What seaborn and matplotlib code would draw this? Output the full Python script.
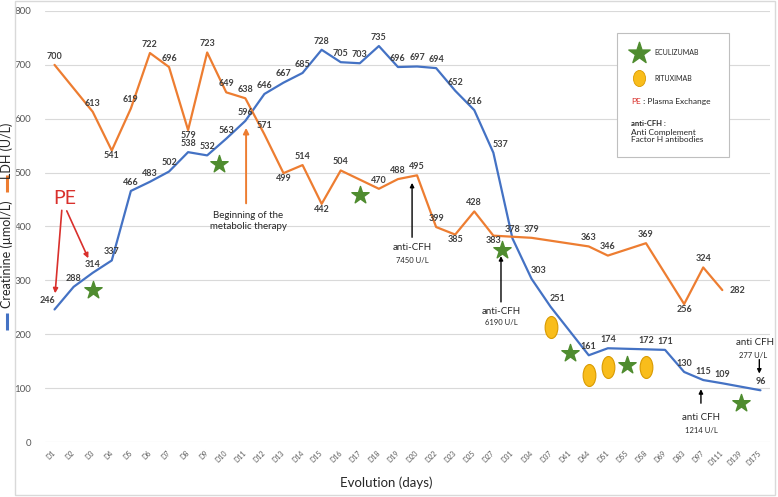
import numpy as np
import pandas as pd
import seaborn as sns
import matplotlib.pyplot as plt
from matplotlib.lines import Line2D
from matplotlib.patches import Rectangle
from matplotlib.path import Path
from matplotlib.transforms import Affine2D

# data
days = ['D1', 'D2', 'D3', 'D4', 'D5', 'D6', 'D7', 'D8', 'D9', 'D10',
        'D11', 'D12', 'D13', 'D14', 'D15', 'D16', 'D17', 'D18', 'D19', 'D20',
        'D22', 'D23', 'D25', 'D27', 'D31', 'D34', 'D37', 'D41', 'D44', 'D51',
        'D55', 'D58', 'D69', 'D83', 'D97', 'D111', 'D139', 'D175']
creatinine = [246, 288, 314, 337, 466, 483, 502, 538, 532, 563,
              596, 646, 667, 685, 728, 705, 703, 735, 696, 697,
              694, 652, 616, 537, 378, 303, 251, None, 161, 174,
              None, 172, 171, 130, 115, 109, None, 96]
ldh = [700, None, 613, 541, 619, 722, 696, 579, 723, 649,
       638, 571, 499, 514, 442, 504, None, 470, 488, 495,
       399, 385, 428, 383, None, 379, None, None, 363, 346,
       None, 369, None, 256, 324, 282, None, None]
ecu_days = ['D3', 'D10', 'D17', 'D27', 'D41', 'D55', 'D139']
ecu_y = [283, 516, 458, 356, 166, 143, 73]
ritux_days = ['D37', 'D44', 'D51', 'D58']
ritux_y = [214, 124, 139, 139]

BLUE = '#4472C4'
ORANGE = '#ED7D31'
GREEN = '#4F8C2F'
GOLD = '#F9BD1B'
TXT = '#404040'
GREY = '#595959'

sns.set_theme(style='white')
plt.rcParams['font.family'] = ['Lato', 'DejaVu Sans']

fig = plt.figure(figsize=(7.78, 4.97), dpi=100)
ax = fig.add_axes([45 / 778, 55 / 497, 725 / 778, 431 / 497])

pos = {d: i for i, d in enumerate(days)}
df = pd.DataFrame({'pos': range(len(days)), 'day': days,
                   'Creatinine': creatinine, 'LDH': ldh})
long = df.melt(id_vars=['pos', 'day'], value_vars=['Creatinine', 'LDH'],
               var_name='series', value_name='value').dropna()
sns.lineplot(data=long, x='pos', y='value', hue='series',
             palette={'Creatinine': BLUE, 'LDH': ORANGE},
             linewidth=1.6, legend=False, estimator=None, ax=ax)

# data labels
ldh_place = {'D4': 'below', 'D8': 'below', 'D13': 'below', 'D15': 'below',
             'D23': 'below', 'D27': 'below', 'D83': 'below', 'D111': 'right'}
cr_place = {'D1': 'aboveleft', 'D27': 'aboveright', 'D34': 'aboveright',
            'D37': 'aboveright'}
offsets = {'above': ((0, 3), 'center', 'bottom'),
           'below': ((0, -0.5), 'center', 'top'),
           'right': ((5, 0), 'left', 'center'),
           'aboveright': ((5, 3), 'center', 'bottom'),
           'aboveleft': ((-5, 3), 'center', 'bottom')}
for vals, place in [(creatinine, cr_place), (ldh, ldh_place)]:
    for d, v in zip(days, vals):
        if v is None:
            continue
        off, ha, va = offsets[place.get(d, 'above')]
        ax.annotate(str(v), (pos[d], v), xytext=off, textcoords='offset points',
                    ha=ha, va=va, fontsize=6.5, fontweight='bold', color=TXT,
                    zorder=5)

# treatment markers
star_nudge = {'D10': -0.4, 'D27': 0.45}
ax.scatter([pos[d] + star_nudge.get(d, 0) for d in ecu_days], ecu_y,
           marker='*', s=170, color=GREEN, edgecolor=GREEN, zorder=6)
oval = Path.unit_circle().transformed(Affine2D().scale(0.58, 1.0))
ax.scatter([pos[d] for d in ritux_days], ritux_y, marker=oval, s=250,
           color=GOLD, edgecolor='#D99A00', linewidth=0.8, zorder=6)


def arrow(x0, y0, x1, y1, color, lw=1.0, ms=6):
    ax.annotate('', xy=(x1, y1), xytext=(x0, y0),
                arrowprops=dict(arrowstyle='-|>', color=color, lw=lw,
                                mutation_scale=ms, shrinkA=0, shrinkB=0))


# annotations
red = '#D9302C'
ax.text(0.55, 452, 'PE', color=red, fontsize=14, ha='center', va='center')
arrow(0.38, 430, 0.03, 276, red, 1.2, 7)
arrow(0.64, 429, 1.77, 341, red, 1.2, 7)

arrow(10.04, 443, 10.04, 583, ORANGE, 1.4, 8)
ax.text(10.14, 410, 'Beginning of the\nmetabolic therapy', fontsize=7,
        color='#262626', ha='center', va='center', linespacing=1.3)

cfh = [(18.74, 380, 481, 'anti-CFH', '7450 U/L', 361, 336),
       (23.4, 260, 345, 'anti-CFH', '6190 U/L', 242, 221),
       (33.88, 72, 98, 'anti CFH', '1214 U/L', 45, 21)]
for x, y0, y1, t1, t2, ty1, ty2 in cfh:
    arrow(x, y0, x, y1, 'black')
    ax.text(x, ty1, t1, fontsize=7, color='#262626', ha='center', va='center')
    ax.text(x, ty2, t2, fontsize=5.5, color='#262626', ha='center', va='center')
ax.text(36.7, 184, 'anti CFH', fontsize=7, color='#262626', ha='center',
        va='center', clip_on=False)
ax.text(36.6, 161, '277 U/L', fontsize=5.5, color='#262626', ha='center', va='center')
arrow(36.94, 153, 36.94, 127, 'black')

# legend box
ax.add_patch(Rectangle((0.789, 0.662), 0.155, 0.288, transform=ax.transAxes,
                       facecolor='white', edgecolor='#bfbfbf', lw=0.8, zorder=7))
ax.scatter([0.819], [0.903], transform=ax.transAxes, marker='*', s=260,
           color=GREEN, zorder=8, clip_on=False)
leg_oval = Path.unit_circle().transformed(Affine2D().scale(0.75, 1.0))
ax.scatter([0.819], [0.8445], transform=ax.transAxes, marker=leg_oval, s=135,
           color=GOLD, edgecolor='#D99A00', linewidth=0.6, zorder=8, clip_on=False)
ax.text(0.841, 0.903, 'ECULIZUMAB', transform=ax.transAxes, fontsize=5,
        va='center', color='#262626', zorder=8)
ax.text(0.841, 0.8445, 'RITUXIMAB', transform=ax.transAxes, fontsize=5,
        va='center', color='#262626', zorder=8)
pe = ax.text(0.808, 0.79, 'PE', transform=ax.transAxes, fontsize=6,
             va='center', color=red, zorder=8)
ax.annotate(' : Plasma Exchange', xy=(1, 0.5), xycoords=pe, fontsize=6,
            va='center', color='#262626', zorder=8)
ax.text(0.808, 0.739, 'anti-CFH :', transform=ax.transAxes, fontsize=5.5,
        fontweight='bold', va='center', color='#262626', zorder=8)
ax.text(0.808, 0.71, 'Anti Complement\nFactor H antibodies', transform=ax.transAxes,
        fontsize=6, va='center', color='#262626', zorder=8, linespacing=1.1)

# axes styling
ax.set_xlim(-0.5, len(days) - 0.5)
ax.set_ylim(0, 800)
ax.set_yticks(range(0, 801, 100))
ax.set_xticks(range(len(days)))
ax.set_xticklabels(days, rotation=45, ha='right', va='center',
                   rotation_mode='anchor', fontsize=5, color=GREY)
ax.tick_params(axis='y', labelsize=7, labelcolor=GREY, length=0, pad=10)
ax.tick_params(axis='x', length=0, pad=7)
ax.yaxis.grid(True, color='#d9d9d9', lw=0.8)
ax.set_axisbelow(True)
for s in ax.spines.values():
    s.set_visible(False)
ax.set_xlabel('')
ax.set_ylabel('')
fig.text(386 / 778, 1 - 483 / 497, 'Evolution (days)', fontsize=9.5,
         color='#262626', ha='center', va='center')

# y axis title with colour keys
fig.text(7 / 778, 1 - 254 / 497, 'Creatinine (µmol/L)', rotation=90, fontsize=9,
         color='#262626', ha='center', va='center')
fig.text(7 / 778, 1 - 151 / 497, 'LDH (U/L)', rotation=90, fontsize=9,
         color='#262626', ha='center', va='center')
fig.add_artist(Line2D([7 / 778, 7 / 778], [1 - 313 / 497, 1 - 330 / 497],
                      color=BLUE, lw=2.2, solid_capstyle='butt'))
fig.add_artist(Line2D([7 / 778, 7 / 778], [1 - 175 / 497, 1 - 192 / 497],
                      color=ORANGE, lw=2.2, solid_capstyle='butt'))

fig.add_artist(Rectangle((15 / 778, 2 / 497), 760 / 778, 494 / 497,
                         transform=fig.transFigure, fill=False,
                         edgecolor='#d9d9d9', lw=1))

fig.savefig('out.png', dpi=100)
